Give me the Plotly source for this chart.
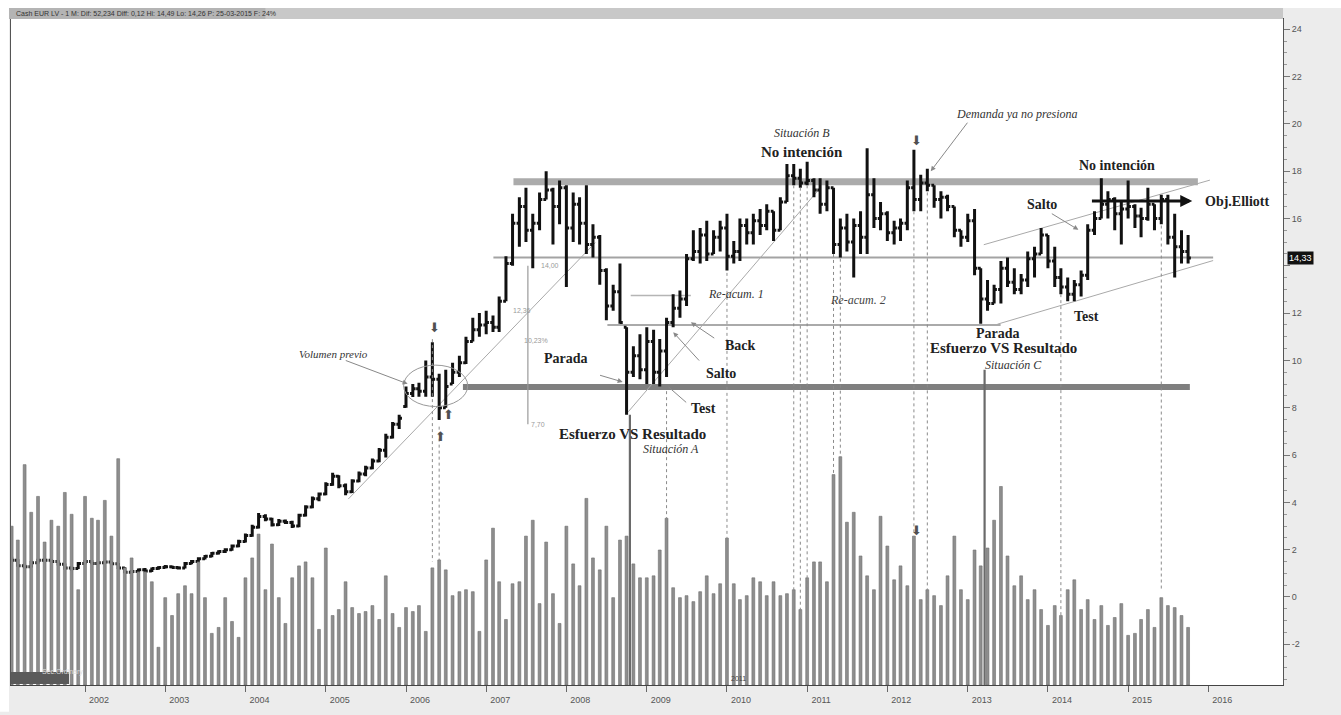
import pandas as pd
import plotly.graph_objects as go

# Monthly bars, Feb 2001 .. Oct 2015 (one row per calendar year)
bar_open = [
    1.62, 1.55, 1.32, 1.28, 1.45, 1.55, 1.55, 1.50, 1.38, 1.22, 1.20,
    1.42, 1.50, 1.42, 1.45, 1.48, 1.40, 1.22, 1.05, 1.08, 1.15, 1.10, 1.20,
    1.25, 1.28, 1.25, 1.22, 1.42, 1.50, 1.62, 1.72, 1.85, 1.92, 2.00, 2.15,
    2.35, 2.60, 2.95, 3.40, 3.30, 3.05, 3.20, 3.15, 3.00, 3.45, 3.80, 4.15,
    4.35, 4.75, 5.10, 4.70, 4.45, 4.90, 5.20, 5.45, 5.75, 6.20, 6.75, 7.30,
    8.05, 8.60, 8.80, 8.70, 9.30, 9.20, 8.00, 9.00, 9.50, 9.90, 10.80, 11.30,
    11.50, 11.60, 11.40, 12.50, 14.10, 15.80, 16.50, 15.50, 15.80, 16.80, 17.20, 16.50,
    17.30, 15.60, 16.60, 15.80, 14.90, 15.20, 13.80, 12.30, 12.90, 11.40, 9.50, 10.20,
    9.60, 10.80, 9.50, 10.40, 11.60, 12.20, 12.60, 14.30, 14.60, 15.30, 14.50, 15.20,
    15.60, 14.40, 14.60, 15.70, 15.40, 15.90, 15.70, 16.30, 15.50, 16.70, 17.80, 17.70,
    17.50, 17.60, 17.20, 16.60, 17.30, 14.90, 15.60, 15.00, 15.70, 15.20, 17.00, 16.00,
    16.20, 15.40, 15.60, 15.80, 17.30, 16.80, 17.50, 17.40, 16.80, 16.90, 16.50, 15.50,
    15.20, 15.90, 13.90, 12.60, 12.40, 13.00, 13.90, 13.30, 13.00, 13.40, 14.30, 14.50,
    15.30, 14.20, 13.50, 13.10, 12.80, 13.20, 13.60, 15.50, 16.00, 16.60, 16.80, 16.20,
    16.40, 16.50, 16.10, 16.00, 16.60, 16.00, 16.80, 15.20, 14.80, 14.60,
]
bar_high = [
    1.70, 1.60, 1.40, 1.52, 1.62, 1.64, 1.60, 1.55, 1.42, 1.30, 1.48,
    1.56, 1.55, 1.50, 1.54, 1.52, 1.44, 1.26, 1.14, 1.20, 1.22, 1.25, 1.30,
    1.35, 1.33, 1.30, 1.48, 1.56, 1.68, 1.78, 1.90, 1.98, 2.06, 2.22, 2.42,
    2.68, 3.05, 3.55, 3.50, 3.35, 3.30, 3.28, 3.22, 3.52, 3.88, 4.25, 4.42,
    4.85, 5.25, 5.15, 4.80, 4.98, 5.30, 5.55, 5.85, 6.30, 6.90, 7.40, 7.70,
    8.90, 9.00, 9.05, 10.00, 10.77, 9.44, 9.60, 9.90, 10.20, 11.00, 11.80, 12.00,
    12.10, 11.90, 12.70, 14.40, 16.20, 16.90, 17.30, 16.20, 17.10, 18.00, 17.30, 17.60,
    17.40, 17.10, 16.90, 17.40, 15.75, 15.30, 13.90, 13.20, 14.10, 11.40, 10.60, 11.10,
    11.40, 11.30, 10.90, 11.80, 12.80, 12.95, 14.50, 15.50, 15.60, 15.90, 15.50, 15.90,
    16.20, 15.05, 16.00, 16.00, 16.20, 16.40, 16.60, 16.30, 16.90, 18.30, 18.30, 18.10,
    18.40, 17.70, 17.70, 17.60, 17.30, 16.00, 16.20, 16.00, 16.30, 18.97, 17.70, 16.70,
    16.30, 15.90, 16.00, 17.60, 18.90, 17.85, 18.10, 17.40, 17.15, 17.00, 16.50, 15.50,
    16.20, 16.40, 13.90, 13.40, 13.20, 14.20, 14.35, 13.90, 13.65, 14.60, 14.80, 15.60,
    15.30, 14.80, 13.90, 13.50, 13.40, 13.80, 15.75, 16.30, 17.70, 17.15, 16.90, 16.70,
    17.60, 16.60, 16.45, 17.30, 16.60, 17.00, 17.00, 16.20, 15.50, 15.30,
]
bar_low = [
    1.50, 1.28, 1.20, 1.25, 1.42, 1.48, 1.45, 1.33, 1.15, 1.12, 1.18,
    1.38, 1.38, 1.38, 1.40, 1.36, 1.18, 1.00, 1.00, 1.03, 1.05, 1.06, 1.15,
    1.20, 1.20, 1.16, 1.20, 1.38, 1.46, 1.58, 1.68, 1.80, 1.86, 1.95, 2.10,
    2.30, 2.55, 2.90, 3.20, 2.98, 3.00, 3.08, 2.92, 2.95, 3.40, 3.75, 4.05,
    4.30, 4.70, 4.60, 4.30, 4.40, 4.85, 5.10, 5.40, 5.70, 5.90, 6.70, 7.10,
    8.00, 8.45, 8.46, 8.46, 8.46, 7.48, 8.00, 9.00, 9.30, 9.85, 10.80, 11.00,
    11.10, 11.20, 11.20, 12.50, 14.00, 14.80, 15.00, 13.90, 15.50, 16.80, 14.90, 15.75,
    13.10, 15.00, 14.90, 14.50, 14.35, 13.20, 11.70, 12.10, 11.55, 7.70, 9.30, 9.20,
    9.00, 9.00, 8.90, 9.30, 11.40, 11.80, 12.30, 14.20, 14.10, 14.20, 14.50, 14.60,
    13.80, 14.10, 14.20, 14.90, 14.90, 15.30, 15.50, 15.05, 15.50, 16.70, 17.40, 17.30,
    17.40, 16.90, 16.20, 16.30, 14.50, 14.35, 14.60, 13.50, 14.50, 14.50, 15.60, 15.50,
    15.05, 14.90, 15.05, 15.50, 16.30, 16.30, 17.15, 16.45, 16.00, 16.30, 15.20, 14.80,
    15.00, 13.60, 11.55, 12.10, 12.40, 12.40, 13.10, 12.80, 12.80, 13.10, 13.50, 14.50,
    13.90, 13.10, 12.80, 12.50, 12.50, 12.70, 13.40, 15.30, 16.00, 16.00, 15.50, 14.90,
    16.00, 15.60, 15.20, 15.90, 15.50, 15.75, 14.90, 13.50, 14.10, 14.10,
]
bar_close = [
    1.55, 1.32, 1.28, 1.45, 1.55, 1.55, 1.50, 1.38, 1.22, 1.20, 1.42,
    1.50, 1.42, 1.45, 1.48, 1.40, 1.22, 1.05, 1.08, 1.15, 1.10, 1.20, 1.25,
    1.28, 1.25, 1.22, 1.42, 1.50, 1.62, 1.72, 1.85, 1.92, 2.00, 2.15, 2.35,
    2.60, 2.95, 3.40, 3.30, 3.05, 3.20, 3.15, 3.00, 3.45, 3.80, 4.15, 4.35,
    4.75, 5.10, 4.70, 4.45, 4.90, 5.20, 5.45, 5.75, 6.20, 6.75, 7.30, 7.55,
    8.60, 8.80, 8.70, 9.30, 9.20, 8.00, 8.90, 9.50, 9.90, 10.80, 11.30, 11.50,
    11.60, 11.40, 12.50, 14.10, 15.80, 16.50, 15.50, 15.80, 16.80, 17.20, 16.50, 17.30,
    15.60, 16.60, 15.80, 14.90, 15.20, 13.80, 12.30, 12.90, 11.60, 9.50, 10.20, 9.60,
    10.80, 9.50, 10.40, 11.60, 12.20, 12.60, 14.30, 14.60, 15.30, 14.50, 15.20, 15.60,
    14.40, 14.60, 15.70, 15.40, 15.90, 15.70, 16.30, 15.50, 16.70, 17.80, 17.70, 17.50,
    17.60, 17.20, 16.60, 17.30, 14.90, 15.60, 15.00, 15.70, 15.20, 17.00, 16.00, 16.20,
    15.40, 15.60, 15.80, 17.30, 16.80, 17.50, 17.40, 16.80, 16.90, 16.50, 15.50, 15.20,
    15.90, 13.90, 12.60, 12.40, 13.00, 13.90, 13.30, 13.00, 13.40, 14.30, 14.50, 15.30,
    14.20, 13.50, 13.10, 12.80, 13.20, 13.60, 15.50, 16.00, 16.60, 16.80, 16.20, 16.40,
    16.50, 16.10, 16.00, 16.60, 16.00, 16.80, 15.20, 14.80, 14.60, 14.33,
]
volume = [
    8.0, 7.3, 11.1, 8.7, 9.5, 7.2, 8.3, 8.0, 9.7, 8.6, 4.8,
    9.5, 8.4, 8.3, 9.3, 7.5, 11.4, 5.9, 6.4, 5.7, 5.7, 5.2, 1.9,
    4.4, 3.5, 4.6, 5.0, 4.6, 6.2, 4.4, 2.6, 2.9, 4.4, 3.2, 2.4,
    5.4, 6.4, 7.6, 4.8, 7.1, 4.4, 3.1, 5.4, 6.0, 6.2, 5.4, 2.8,
    6.9, 3.5, 3.8, 5.2, 3.9, 3.6, 3.7, 4.0, 3.3, 5.5, 3.6, 2.9,
    3.9, 3.7, 4.0, 2.7, 5.9, 6.3, 5.8, 4.5, 4.7, 4.8, 4.7, 2.7,
    6.3, 7.9, 5.2, 3.3, 5.1, 5.2, 7.5, 8.3, 4.1, 7.2, 4.6, 3.1,
    8.0, 6.1, 5.0, 9.4, 6.4, 5.8, 8.0, 4.4, 7.3, 7.5, 6.1, 5.4,
    5.4, 5.5, 6.8, 8.4, 4.9, 4.4, 4.5, 4.2, 4.7, 5.5, 4.6, 5.1,
    7.4, 5.1, 4.3, 4.5, 5.4, 5.2, 4.5, 5.2, 4.5, 4.6, 4.8, 3.8,
    5.4, 6.2, 6.2, 5.2, 10.6, 11.5, 8.2, 8.7, 6.5, 5.5, 4.8, 8.5,
    7.0, 5.3, 6.0, 5.0, 7.5, 4.3, 4.8, 4.5, 4.0, 5.5, 7.5, 4.8,
    4.3, 6.8, 6.0, 6.9, 8.3, 10.0, 6.5, 5.0, 5.5, 4.3, 4.8, 3.8,
    3.0, 4.0, 3.5, 4.8, 5.3, 3.8, 4.3, 3.3, 4.0, 3.0, 3.4, 4.1,
    2.5, 2.6, 3.3, 3.8, 2.9, 4.4, 4.0, 3.9, 3.5, 2.9,
]
last_price = 14.33
year_ticks = list(range(2002, 2017))
price_ticks = list(range(-2, 25, 2))

months = pd.date_range("2001-02-01", periods=len(bar_close), freq="MS")


def yr(v):
    """Decimal year -> timestamp."""
    y = int(v)
    a = pd.Timestamp(year=y, month=1, day=1)
    b = pd.Timestamp(year=y + 1, month=1, day=1)
    return a + (b - a) * (v - y)


SERIF = "Liberation Serif"
GRAY_LINE = "#a9a9a9"

fig = go.Figure()

fig.add_trace(go.Bar(
    x=months, y=volume, yaxis="y2",
    marker=dict(color="#8e8e8e", line=dict(color="#6f6f6f", width=0.6)),
    width=13 * 86400000, hoverinfo="skip", showlegend=False,
))
fig.add_trace(go.Ohlc(
    x=months, open=bar_open, high=bar_high, low=bar_low, close=bar_close,
    increasing=dict(line=dict(color="#111111", width=3)),
    decreasing=dict(line=dict(color="#111111", width=3)),
    tickwidth=0.45, showlegend=False,
))

shapes = []


def hline(x0, x1, y, width, color):
    shapes.append(dict(type="line", xref="x", yref="y", x0=yr(x0), x1=yr(x1),
                       y0=y, y1=y, line=dict(color=color, width=width), layer="below"))


def seg(x0, y0, x1, y1, width=1, color=GRAY_LINE, dash="solid", layer="below"):
    shapes.append(dict(type="line", xref="x", yref="y", x0=yr(x0), x1=yr(x1),
                       y0=y0, y1=y1, line=dict(color=color, width=width, dash=dash),
                       layer=layer))


# support / resistance levels
hline(2007.34, 2015.87, 17.55, 7, "#ababab")
hline(2007.09, 2016.06, 14.35, 2, "#a3a3a3")
hline(2008.51, 2013.41, 11.50, 2, "#aaaaaa")
hline(2008.80, 2009.55, 12.74, 1.5, "#b5b5b5")
hline(2006.71, 2015.77, 8.88, 6, "#7f7f7f")

# trend lines
seg(2005.28, 4.14, 2008.36, 14.98)
seg(2008.77, 7.83, 2011.14, 17.20)
seg(2013.20, 14.89, 2016.02, 17.62)
seg(2013.37, 11.53, 2016.06, 14.22)

# measuring line of the 2007 range
seg(2007.52, 14.0, 2007.52, 7.3, width=1.2, color="#9a9a9a")

# solid markers linking effort bars with volume
seg(2008.79, 7.7, 2008.79, -3.72, width=2.2, color="#6a6a6a", layer="above")
seg(2013.21, 9.6, 2013.21, -3.72, width=2.2, color="#6a6a6a", layer="above")

# dotted links bar -> volume
dotted = [
    ("2006-05-01", 10.9, 1.5), ("2006-06-01", 7.2, 1.1),
    ("2009-04-01", 8.7, 3.3), ("2010-01-01", 13.7, 2.5),
    ("2010-11-01", 17.4, 0.0), ("2010-12-01", 17.3, -0.6),
    ("2011-01-01", 17.4, 0.2), ("2011-05-01", 14.5, 5.1),
    ("2011-06-01", 14.3, 5.9), ("2012-05-01", 16.3, 2.6),
    ("2012-07-01", 17.1, -0.5), ("2014-03-01", 12.8, -0.8),
    ("2015-06-01", 15.7, 0.3),
]
for d, y0, y1 in dotted:
    shapes.append(dict(type="line", xref="x", yref="y", x0=d, x1=d, y0=y0, y1=y1,
                       line=dict(color="#8a8a8a", width=1, dash="dot"), layer="above"))

# ellipse around the 2006 climax
shapes.append(dict(type="circle", xref="x", yref="y", x0=yr(2005.97), x1=yr(2006.77),
                   y0=8.05, y1=9.8, line=dict(color="#999999", width=1), layer="above"))

# header strip, outer frame areas
shapes.append(dict(type="rect", xref="paper", yref="paper", x0=-0.0016, x1=1.0,
                   y0=1.0, y1=1.0164, fillcolor="#c8c8c8", line=dict(width=0), layer="above"))
shapes.append(dict(type="rect", xref="paper", yref="paper", x0=-0.0016, x1=0.2,
                   y0=1.0, y1=1.0164, fillcolor="#b4b4b4", line=dict(width=0), layer="above"))
shapes.append(dict(type="rect", xref="paper", yref="paper", x0=-0.01, x1=1.05,
                   y0=1.0164, y1=1.04, fillcolor="white", line=dict(width=0)))
shapes.append(dict(type="rect", xref="paper", yref="paper", x0=-0.01, x1=-0.0016,
                   y0=-0.04, y1=1.04, fillcolor="white", line=dict(width=0)))
# volume study label box
shapes.append(dict(type="rect", xref="paper", yref="paper", x0=0.0, x1=0.0456,
                   y0=0.0015, y1=0.0194, fillcolor="#5a5a5a", line=dict(width=0), layer="above"))

annotations = []


def label(x, y, text, size=14, style="b", color="#222222"):
    t = f"<{style}>{text}</{style}>" if style else text
    annotations.append(dict(x=yr(x), y=y, xref="x", yref="y", text=t, showarrow=False,
                            font=dict(family=SERIF, size=size, color=color)))


def arrow(x0, y0, x1, y1, color="#888888", width=1, head=2, size=1.0):
    annotations.append(dict(x=yr(x1), y=y1, ax=yr(x0), ay=y0, xref="x", yref="y",
                            axref="x", ayref="y", text="", showarrow=True,
                            arrowhead=head, arrowsize=size, arrowwidth=width,
                            arrowcolor=color))


def glyph(x, y, ch):
    annotations.append(dict(x=yr(x), y=y, xref="x", yref="y", text=ch, showarrow=False,
                            font=dict(family="DejaVu Sans", size=13, color="#505050")))


label(2005.09, 10.27, "Volumen previo", 11, "i", "#333333")
arrow(2005.23, 10.02, 2006.02, 9.01)
glyph(2006.35, 11.40, "\u2b07")
glyph(2006.43, 6.78, "\u2b06")
glyph(2006.53, 7.71, "\u2b06")

label(2008.00, 10.06, "Parada", 14)
arrow(2008.40, 9.39, 2008.70, 9.09)
label(2008.82, 6.91, "Esfuerzo VS Resultado", 15)
label(2009.30, 6.25, "Situación A", 12, "i", "#333333")
label(2009.71, 7.96, "Test", 14)
arrow(2009.51, 8.17, 2009.27, 8.88, head=0)
label(2009.92, 9.43, "Salto", 14)
arrow(2009.67, 9.93, 2009.33, 11.19)
label(2010.17, 10.65, "Back", 14)
arrow(2009.86, 10.90, 2009.55, 11.61)
label(2010.11, 12.79, "Re-acum. 1", 12, "i", "#333333")
label(2011.63, 12.54, "Re-acum. 2", 12, "i", "#444444")

label(2010.93, 19.60, "Situación B", 12, "i", "#333333")
label(2010.93, 18.80, "No intención", 15)
glyph(2012.36, 19.30, "\u2b07")
label(2013.62, 20.40, "Demanda ya no presiona", 12, "i", "#333333")
arrow(2013.01, 20.11, 2012.54, 18.00)

label(2013.38, 11.15, "Parada", 14)
label(2013.44, 10.52, "Esfuerzo VS Resultado", 15)
label(2013.57, 9.81, "Situación C", 12, "i", "#333333")
label(2014.48, 11.87, "Test", 14)
label(2013.93, 16.57, "Salto", 14)
arrow(2014.03, 16.24, 2014.38, 15.52)
label(2014.86, 18.25, "No intención", 14)
arrow(2014.53, 16.74, 2015.80, 16.74, color="#111111", width=3, head=2, size=0.8)
label(2016.36, 16.70, "Obj.Elliott", 14)
glyph(2012.36, 2.79, "\u2b07")

# small level tags of the 2007 measuring line
for x, y, t in [(2007.80, 14.0, "14,00"), (2007.45, 12.1, "12,36"),
                (2007.62, 10.85, "10,23%"), (2007.65, 7.3, "7,70")]:
    annotations.append(dict(x=yr(x), y=y, xref="x", yref="y", text=t, showarrow=False,
                            font=dict(family="Liberation Sans", size=7, color="#9a9a9a")))

# header text, study label, last price tag
annotations.append(dict(x=0.002, y=1.008, xref="paper", yref="paper", xanchor="left",
                        yanchor="middle", showarrow=False,
                        text="Cash EUR LV - 1 M: Dif: 52,234 Diff: 0,12 Hi: 14,49 Lo: 14,26 P: 25-03-2015 F: 24%",
                        font=dict(family="Liberation Sans", size=7, color="#333333")))
annotations.append(dict(x=0.0228, y=0.0105, xref="paper", yref="paper", showarrow=False,
                        text="Sec.Ordinary",
                        font=dict(family="Liberation Sans", size=7, color="#dddddd")))
annotations.append(dict(x=1.003, y=last_price, xref="paper", yref="y", xanchor="left",
                        showarrow=False, text=f"{last_price:.2f}".replace(".", ","),
                        bgcolor="#111111", borderpad=1,
                        font=dict(family="Liberation Sans", size=9, color="white")))
annotations.append(dict(x=yr(2010.14), y=-3.45, xref="x", yref="y", showarrow=False,
                        text="2011", font=dict(family="Liberation Sans", size=7, color="#444444")))

fig.update_layout(
    width=1341, height=715,
    margin=dict(l=10, r=58, t=19, b=25),
    paper_bgcolor="#ececec", plot_bgcolor="white",
    showlegend=False, shapes=shapes, annotations=annotations,
    xaxis=dict(
        type="date", range=[pd.Timestamp("2001-01-29"), pd.Timestamp("2016-12-06")],
        tickvals=[pd.Timestamp(f"{y}-01-01") for y in year_ticks],
        ticktext=[str(y) for y in year_ticks],
        ticks="outside", ticklen=6, tickcolor="#666666", ticklabelshift=14,
        tickfont=dict(family="Liberation Sans", size=9, color="#555555"),
        showgrid=False, zeroline=False, showline=True, linecolor="#444444",
        mirror=True, rangeslider=dict(visible=False),
    ),
    yaxis=dict(
        side="right", range=[-3.72, 24.43], tickvals=price_ticks,
        ticktext=["" if v == 14 else str(v) for v in price_ticks],
        ticks="outside", ticklen=6, tickcolor="#777777",
        minor=dict(ticks="outside", ticklen=3, dtick=0.5, tickcolor="#999999", showgrid=False),
        tickfont=dict(family="Liberation Sans", size=9, color="#555555"),
        showgrid=False, zeroline=False, showline=True, linecolor="#555555", mirror=True,
    ),
    yaxis2=dict(overlaying="y", range=[0, 33.55], visible=False),
)

fig.write_html("out.html")
